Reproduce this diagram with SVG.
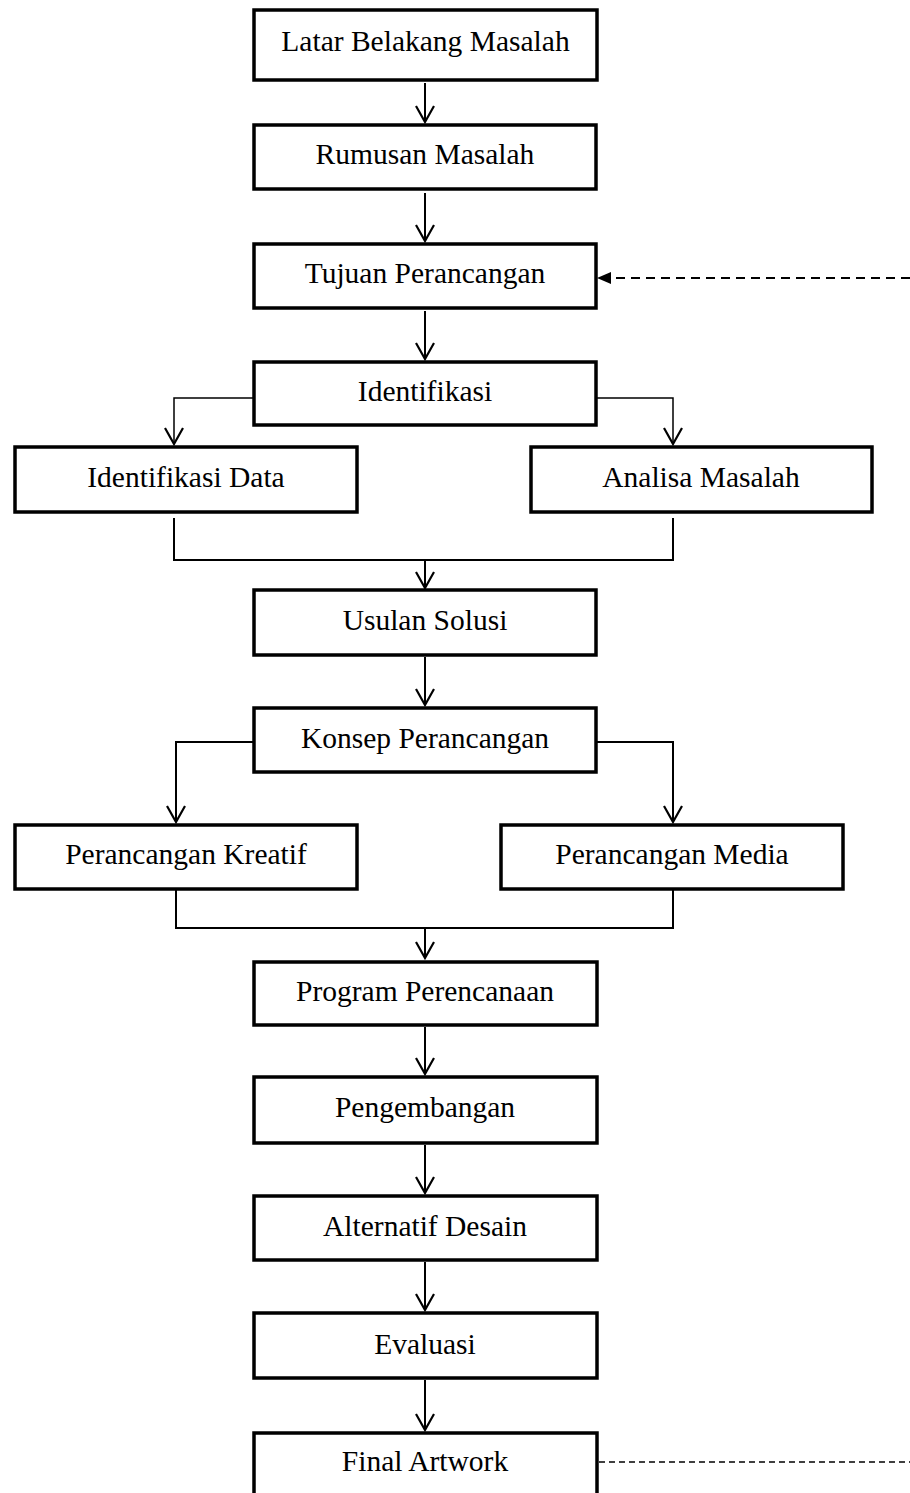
<svg xmlns="http://www.w3.org/2000/svg" width="910" height="1493" viewBox="0 0 910 1493">
<style>
.box{fill:#fff;stroke:#000;stroke-width:3.5}
.lbl{font-family:"Liberation Serif","Times New Roman",serif;font-size:29.5px;fill:#000;text-anchor:middle}
.con{fill:none;stroke:#000;stroke-width:2}
.thin{fill:none;stroke:#000;stroke-width:1.5}
.dash1{fill:none;stroke:#000;stroke-width:2;stroke-dasharray:9 6}
.dash2{fill:none;stroke:#000;stroke-width:1.3;stroke-dasharray:6 4}
</style>
<defs>
<marker id="open" viewBox="0 0 19 20" refX="17" refY="10" markerWidth="19" markerHeight="20" orient="auto" markerUnits="userSpaceOnUse">
<path d="M1,1 L17,10 L1,19" fill="none" stroke="#000" stroke-width="2.2"/>
</marker>
<marker id="fill" viewBox="0 0 14 12" refX="13" refY="6" markerWidth="14" markerHeight="12" orient="auto" markerUnits="userSpaceOnUse">
<path d="M0,0 L14,6 L0,12 Z" fill="#000" stroke="none"/>
</marker>
</defs>
<rect width="910" height="1493" fill="#fff"/>

<g id="connectors">
<line class="con" x1="425" y1="83" x2="425" y2="122" marker-end="url(#open)"/>
<line class="con" x1="425" y1="193" x2="425" y2="241" marker-end="url(#open)"/>
<line class="dash1" x1="910" y1="278" x2="598" y2="278" marker-end="url(#fill)"/>
<line class="con" x1="425" y1="311" x2="425" y2="359" marker-end="url(#open)"/>
<polyline class="thin" points="253,398 174,398 174,444" marker-end="url(#open)"/>
<polyline class="thin" points="597,398 673,398 673,444" marker-end="url(#open)"/>
<polyline class="con" points="174,518 174,560 673,560 673,518"/>
<line class="con" x1="425" y1="560" x2="425" y2="588" marker-end="url(#open)"/>
<line class="con" x1="425" y1="657" x2="425" y2="705" marker-end="url(#open)"/>
<polyline class="con" points="253,742 176,742 176,822" marker-end="url(#open)"/>
<polyline class="con" points="597,742 673,742 673,822" marker-end="url(#open)"/>
<polyline class="con" points="176,889 176,928 673,928 673,889"/>
<line class="con" x1="425" y1="928" x2="425" y2="958" marker-end="url(#open)"/>
<line class="con" x1="425" y1="1027" x2="425" y2="1074" marker-end="url(#open)"/>
<line class="con" x1="425" y1="1145" x2="425" y2="1193" marker-end="url(#open)"/>
<line class="con" x1="425" y1="1262" x2="425" y2="1310" marker-end="url(#open)"/>
<line class="con" x1="425" y1="1380" x2="425" y2="1430" marker-end="url(#open)"/>
<line class="dash2" x1="599" y1="1462" x2="910" y2="1462"/>
</g>

<g id="n1"><rect class="box" x="254" y="10" width="343" height="70"/><text class="lbl" x="425.5" y="51">Latar Belakang Masalah</text></g>
<g id="n2"><rect class="box" x="254" y="125" width="342" height="64"/><text class="lbl" x="425" y="164">Rumusan Masalah</text></g>
<g id="n3"><rect class="box" x="254" y="244" width="342" height="64"/><text class="lbl" x="425" y="283">Tujuan Perancangan</text></g>
<g id="n4"><rect class="box" x="254" y="362" width="342" height="63"/><text class="lbl" x="425" y="401">Identifikasi</text></g>
<g id="n5"><rect class="box" x="15" y="447" width="342" height="65"/><text class="lbl" x="186" y="487">Identifikasi Data</text></g>
<g id="n6"><rect class="box" x="531" y="447" width="341" height="65"/><text class="lbl" x="701" y="487">Analisa Masalah</text></g>
<g id="n7"><rect class="box" x="254" y="590" width="342" height="65"/><text class="lbl" x="425" y="630">Usulan Solusi</text></g>
<g id="n8"><rect class="box" x="254" y="708" width="342" height="64"/><text class="lbl" x="425" y="748">Konsep Perancangan</text></g>
<g id="n9"><rect class="box" x="15" y="825" width="342" height="64"/><text class="lbl" x="186" y="864">Perancangan Kreatif</text></g>
<g id="n10"><rect class="box" x="501" y="825" width="342" height="64"/><text class="lbl" x="672" y="864">Perancangan Media</text></g>
<g id="n11"><rect class="box" x="254" y="962" width="343" height="63"/><text class="lbl" x="425" y="1001">Program Perencanaan</text></g>
<g id="n12"><rect class="box" x="254" y="1077" width="343" height="66"/><text class="lbl" x="425" y="1117">Pengembangan</text></g>
<g id="n13"><rect class="box" x="254" y="1196" width="343" height="64"/><text class="lbl" x="425" y="1236">Alternatif Desain</text></g>
<g id="n14"><rect class="box" x="254" y="1313" width="343" height="65"/><text class="lbl" x="425" y="1354">Evaluasi</text></g>
<g id="n15"><rect class="box" x="254" y="1433" width="343" height="70"/><text class="lbl" x="425" y="1471">Final Artwork</text></g>
</svg>
